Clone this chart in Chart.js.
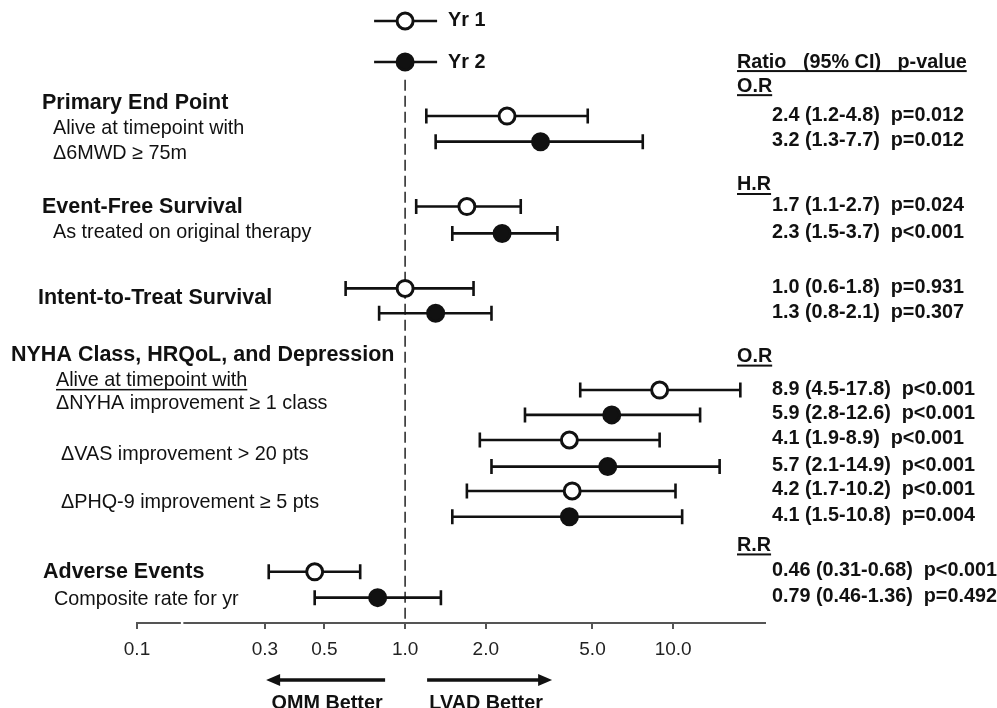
<!DOCTYPE html>
<html>
<head>
<meta charset="utf-8">
<script src="https://cdn.jsdelivr.net/npm/chart.js@4.4.1/dist/chart.umd.min.js"></script>
<style>
  html, body { margin: 0; padding: 0; background: #fff; }
  #wrap { width: 997px; height: 708px; }
</style>
</head>
<body>
<div id="wrap"><canvas id="forest" width="997" height="708"></canvas></div>
<script>
// values (ratio, 95% CI, p-value) for each outcome
const yr1Ratio = [2.4, 1.7, 1.0, 8.9, 4.1, 4.2, 0.46];
const yr1Low   = [1.2, 1.1, 0.6, 4.5, 1.9, 1.7, 0.31];
const yr1High  = [4.8, 2.7, 1.8, 17.8, 8.9, 10.2, 0.68];
const yr1P     = ['p=0.012', 'p=0.024', 'p=0.931', 'p<0.001', 'p<0.001', 'p<0.001', 'p<0.001'];

const yr2Ratio = [3.2, 2.3, 1.3, 5.9, 5.7, 4.1, 0.79];
const yr2Low   = [1.3, 1.5, 0.8, 2.8, 2.1, 1.5, 0.46];
const yr2High  = [7.7, 3.7, 2.1, 12.6, 14.9, 10.8, 1.36];
const yr2P     = ['p=0.012', 'p<0.001', 'p=0.307', 'p<0.001', 'p<0.001', 'p=0.004', 'p=0.492'];

const ratioDecimals = [1, 1, 1, 1, 1, 1, 2];

// row of each estimate, counted top to bottom
const yr1Row = [0, 3.57, 6.8, 10.81, 12.78, 14.79, 17.98];
const yr2Row = [1.01, 4.63, 7.78, 11.79, 13.83, 15.81, 19.0];

const tickValues = [0.1, 0.3, 0.5, 1.0, 2.0, 5.0, 10.0];
const tickLabels = ['0.1', '0.3', '0.5', '1.0', '2.0', '5.0', '10.0'];

const seriesNames = ['Yr 1', 'Yr 2'];
const groupTitles = ['Primary End Point', 'Event-Free Survival', 'Intent-to-Treat Survival',
                     'NYHA Class, HRQoL, and Depression', 'Adverse Events'];
const groupNotes = [
    ['Alive at timepoint with', 'Δ6MWD ≥ 75m'],
    ['As treated on original therapy'],
    [],
    ['Alive at timepoint with', 'ΔNYHA improvement ≥ 1 class', 'ΔVAS improvement > 20 pts', 'ΔPHQ-9 improvement ≥ 5 pts'],
    ['Composite rate for yr']
];
const ratioTypes = ['O.R', 'H.R', 'O.R', 'R.R'];
const tableHeader = 'Ratio   (95% CI)   p-value';
const directionLabels = ['OMM Better', 'LVAD Better'];

// ---- layout (pixels / row units for the annotations) ----
const FAMILY = "'Liberation Sans', Arial, Helvetica, sans-serif";
const titleFont = 'bold 21.5px ' + FAMILY;
const noteFont = '19.8px ' + FAMILY;
const valueFont = 'bold 19.8px ' + FAMILY;
const INK = '#111';

const titleX = [42, 42, 38, 11, 43];
const titleRow = [-0.51, 3.59, 7.18, 9.43, 17.99];
const noteX = [[53, 53], [53], [], [56, 56, 61, 61], [54]];
const noteRow = [[0.51, 1.46], [4.58], [], [10.43, 11.36, 13.37, 15.23], [19.09]];
const ratioTypeRow = [-1.18, 2.72, 9.49, 16.94];
const headerRow = -2.13;
const legendRow = [-3.75, -2.13];

function fmt(v, d) { return v.toFixed(d); }

function makePoints(est, lo, hi, rows) {
    return est.map((v, i) => ({ x: v, y: rows[i], lo: lo[i], hi: hi[i] }));
}

function drawText(ctx, s, x, y, underline, thick, off) {
    ctx.fillText(s, x, y);
    if (underline) {
        const w = ctx.measureText(s).width;
        ctx.fillRect(x, y + off, w, thick);
    }
}

function drawMarker(ctx, cx, cy, filled) {
    ctx.beginPath();
    ctx.arc(cx, cy, 8, 0, Math.PI * 2);
    ctx.fillStyle = filled ? INK : '#fff';
    ctx.fill();
    ctx.lineWidth = 3;
    ctx.strokeStyle = INK;
    ctx.stroke();
}

function drawArrow(ctx, x0, x1, y) {
    const dir = Math.sign(x1 - x0);
    ctx.beginPath();
    ctx.moveTo(x0, y);
    ctx.lineTo(x1 - dir * 8, y);
    ctx.lineWidth = 3.5;
    ctx.stroke();
    ctx.beginPath();
    ctx.moveTo(x1, y);
    ctx.lineTo(x1 - dir * 14, y - 6);
    ctx.lineTo(x1 - dir * 14, y + 6);
    ctx.closePath();
    ctx.fill();
}

const forestPlugin = {
    id: 'forest',
    beforeDatasetsDraw(chart) {
        const { ctx, chartArea, scales: { x, y } } = chart;
        const x1 = x.getPixelForValue(1);
        ctx.save();
        // line of no effect
        ctx.strokeStyle = '#222';
        ctx.lineWidth = 1.5;
        ctx.setLineDash([11, 5]);
        ctx.beginPath();
        ctx.moveTo(x1, y.getPixelForValue(-1.43));
        ctx.lineTo(x1, chartArea.bottom);
        ctx.stroke();
        ctx.setLineDash([]);

        // confidence intervals
        ctx.strokeStyle = INK;
        ctx.lineWidth = 2.6;
        chart.data.datasets.forEach(ds => {
            ds.data.forEach(p => {
                const py = y.getPixelForValue(p.y);
                const a = x.getPixelForValue(p.lo);
                const b = x.getPixelForValue(p.hi);
                ctx.beginPath();
                ctx.moveTo(a, py); ctx.lineTo(b, py);
                ctx.moveTo(a, py - 7.5); ctx.lineTo(a, py + 7.5);
                ctx.moveTo(b, py - 7.5); ctx.lineTo(b, py + 7.5);
                ctx.stroke();
            });
        });
        ctx.restore();
    },
    afterDraw(chart) {
        const { ctx, chartArea, scales: { x, y } } = chart;
        const x1 = x.getPixelForValue(1);
        ctx.save();
        ctx.fillStyle = INK;
        ctx.strokeStyle = INK;
        ctx.textBaseline = 'middle';
        ctx.textAlign = 'left';

        // small break in the axis line
        ctx.fillStyle = '#fff';
        ctx.fillRect(x.getPixelForValue(0.147) - 1, chartArea.bottom - 2, 2.5, 4);
        ctx.fillStyle = INK;

        // legend
        seriesNames.forEach((name, i) => {
            const py = y.getPixelForValue(legendRow[i]);
            ctx.lineWidth = 2.6;
            ctx.beginPath();
            ctx.moveTo(x1 - 31, py);
            ctx.lineTo(x1 + 32, py);
            ctx.stroke();
            drawMarker(ctx, x1, py, i === 1);
            ctx.fillStyle = INK;
            ctx.font = 'bold 19.8px ' + FAMILY;
            ctx.fillText(name, x1 + 43, py);
        });

        // left labels
        groupTitles.forEach((t, g) => {
            ctx.font = titleFont;
            ctx.fillText(t, titleX[g], y.getPixelForValue(titleRow[g]));
            ctx.font = noteFont;
            groupNotes[g].forEach((n, k) => {
                const under = g === 3 && k === 0;
                drawText(ctx, n, noteX[g][k], y.getPixelForValue(noteRow[g][k]), under, 1.5, 8.5);
            });
        });

        // right-hand table
        const tx = chartArea.right + 7;
        ctx.font = valueFont;
        drawText(ctx, tableHeader, tx - 35, y.getPixelForValue(headerRow), true, 2, 8);
        ratioTypes.forEach((r, i) => {
            drawText(ctx, r, tx - 35, y.getPixelForValue(ratioTypeRow[i]), true, 2, 8);
        });
        const rows = [
            [yr1Ratio, yr1Low, yr1High, yr1P, yr1Row],
            [yr2Ratio, yr2Low, yr2High, yr2P, yr2Row]
        ];
        rows.forEach(([est, lo, hi, p, rr]) => {
            est.forEach((v, i) => {
                const d = ratioDecimals[i];
                const s = fmt(v, d) + ' (' + fmt(lo[i], d) + '-' + fmt(hi[i], d) + ')  ' + p[i];
                ctx.fillText(s, tx, y.getPixelForValue(rr[i]) - 1);
            });
        });

        // direction arrows
        const ay = chartArea.bottom + 57;
        drawArrow(ctx, x1 - 20, x1 - 139, ay);
        drawArrow(ctx, x1 + 22, x1 + 147, ay);
        ctx.font = 'bold 19.8px ' + FAMILY;
        ctx.textAlign = 'center';
        ctx.textBaseline = 'alphabetic';
        ctx.fillText(directionLabels[0], x1 - 78, chartArea.bottom + 86);
        ctx.fillText(directionLabels[1], x1 + 81, chartArea.bottom + 86);
        ctx.restore();
    }
};

const ctx = document.getElementById('forest').getContext('2d');
new Chart(ctx, {
    type: 'scatter',
    data: {
        datasets: [
            {
                label: seriesNames[0],
                data: makePoints(yr1Ratio, yr1Low, yr1High, yr1Row),
                pointRadius: 8,
                pointBorderWidth: 3,
                pointBackgroundColor: '#fff',
                pointBorderColor: INK
            },
            {
                label: seriesNames[1],
                data: makePoints(yr2Ratio, yr2Low, yr2High, yr2Row),
                pointRadius: 8,
                pointBorderWidth: 3,
                pointBackgroundColor: INK,
                pointBorderColor: INK
            }
        ]
    },
    options: {
        responsive: false,
        animation: false,
        devicePixelRatio: 1,
        events: [],
        layout: { autoPadding: false, padding: { left: 137, right: 232, top: 2, bottom: 0 } },
        plugins: { legend: { display: false }, tooltip: { enabled: false } },
        scales: {
            x: {
                type: 'logarithmic',
                min: 0.1,
                max: 22,
                afterBuildTicks: s => { s.ticks = tickValues.map(v => ({ value: v })); },
                afterFit: s => { s.height = 85; },
                border: { display: true, color: '#555', width: 2 },
                grid: { display: true, drawOnChartArea: false, drawTicks: true, tickLength: 6, color: '#555', lineWidth: 2 },
                ticks: {
                    autoSkip: false,
                    maxRotation: 0,
                    padding: 9,
                    color: '#222',
                    font: { family: FAMILY, size: 19 },
                    callback: (v, i) => tickLabels[i]
                }
            },
            y: {
                type: 'linear',
                reverse: true,
                min: -4.5,
                max: 20,
                display: false
            }
        }
    },
    plugins: [forestPlugin]
});
</script>
</body>
</html>
